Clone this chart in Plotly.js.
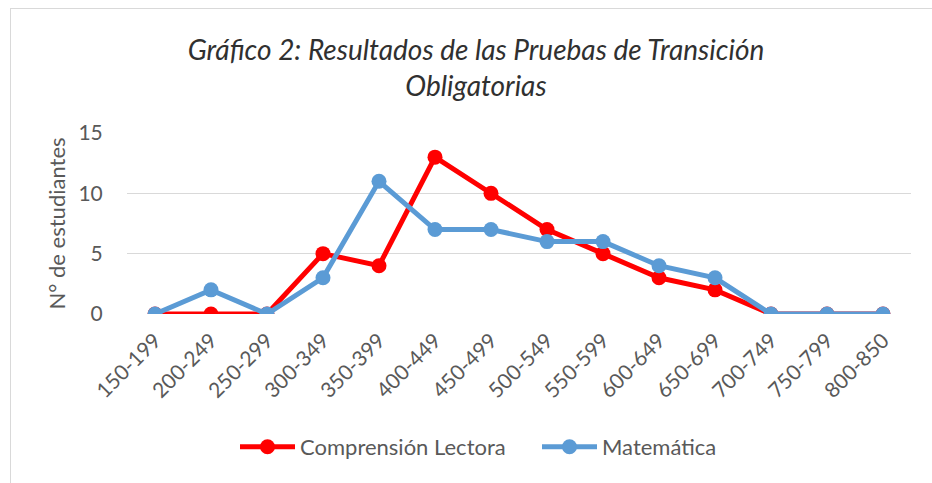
<!DOCTYPE html>
<html>
<head>
<meta charset="utf-8">
<script src="https://cdn.plot.ly/plotly-3.0.1.min.js"></script>
<style>
body { margin: 0; background: #fff; }
#chart { width: 932px; height: 483px; position: relative; }
#frame { position: absolute; left: 10px; top: 8px; width: 940px; height: 500px;
         border-left: 1.5px solid #d9d9d9; border-top: 1.5px solid #d9d9d9; pointer-events: none; }
</style>
</head>
<body>
<div id="chart"></div>
<div id="frame"></div>
<script>
// rangos de puntaje
const rangos = ['150-199','200-249','250-299','300-349','350-399','400-449','450-499',
                '500-549','550-599','600-649','650-699','700-749','750-799','800-850'];
const lectora = [0, 0, 0, 5, 4, 13, 10, 7, 5, 3, 2, 0, 0, 0];
const matematica = [0, 2, 0, 3, 11, 7, 7, 6, 6, 4, 3, 0, 0, 0];

const fuente = 'Lato, "Open Sans", sans-serif';
const gris = '#595959';
const invisible = 'rgba(0,0,0,0)';

function serie(y, nombre, color) {
    return {
        x: rangos,
        y: y,
        name: nombre,
        type: 'scatter',
        mode: 'lines+markers',
        line: {color: color, width: 5},
        marker: {color: color, size: 15}
    };
}

const trazas = [
    serie(lectora, 'Comprensión Lectora', '#ff0000'),
    serie(matematica, 'Matemática', '#5b9bd5')
];

const layout = {
    width: 932,
    height: 483,
    paper_bgcolor: '#ffffff',
    plot_bgcolor: '#ffffff',
    margin: {l: 127, r: 21, t: 133, b: 169},
    font: {family: fuente, color: gris},
    title: {
        text: '<i>Gráfico 2: Resultados de las Pruebas de Transición<br>Obligatorias</i>',
        font: {family: fuente, size: 28, color: '#303030'},
        xref: 'container', x: 476 / 932, xanchor: 'center',
        yref: 'container', y: 1 - 60 / 483, yanchor: 'middle'
    },
    xaxis: {
        type: 'category',
        range: [-0.5, 13.5],
        showgrid: false,
        zeroline: false,
        showline: false,
        ticks: 'outside',
        ticklen: 5,
        tickcolor: invisible,
        tickangle: -45,
        tickfont: {size: 21, color: gris}
    },
    yaxis: {
        range: [0, 15],
        tickvals: [0, 5, 10, 15],
        showgrid: true,
        gridcolor: '#d9d9d9',
        gridwidth: 1.5,
        zeroline: false,
        showline: false,
        ticks: 'outside',
        ticklen: 19,
        tickcolor: invisible,
        tickfont: {size: 21, color: gris},
        title: {text: 'N° de estudiantes', font: {size: 22, color: gris}, standoff: 6}
    },
    showlegend: true,
    legend: {
        orientation: 'h',
        x: 235 / 932, xanchor: 'left', xref: 'container',
        y: 1 - 447 / 483, yanchor: 'middle', yref: 'container',
        font: {size: 22, color: gris},
        itemwidth: 55,
        entrywidth: 232,
        tracegroupgap: 0
    }
};

Plotly.newPlot('chart', trazas, layout, {displayModeBar: false, staticPlot: true});
</script>
</body>
</html>
